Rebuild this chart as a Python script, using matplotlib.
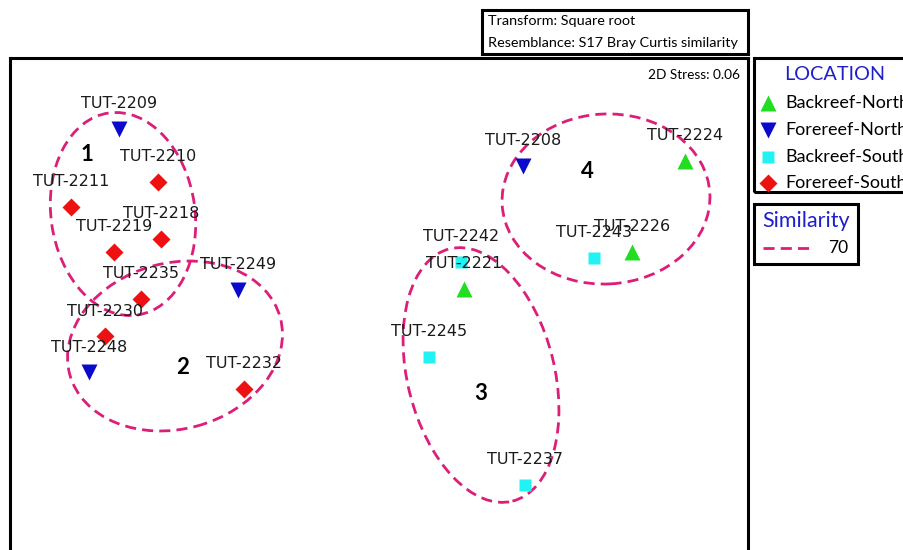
import matplotlib.pyplot as plt
from matplotlib.patches import Ellipse, Rectangle
from matplotlib.lines import Line2D

# nMDS sample coordinates (arbitrary MDS units)
samples = ["TUT-2209", "TUT-2210", "TUT-2211", "TUT-2218", "TUT-2219", "TUT-2235",
           "TUT-2249", "TUT-2230", "TUT-2248", "TUT-2232", "TUT-2208", "TUT-2224",
           "TUT-2243", "TUT-2226", "TUT-2242", "TUT-2221", "TUT-2245", "TUT-2237"]
mds1 = [-2.61, -2.22, -3.09, -2.19, -2.66, -2.39, -1.42, -2.75, -2.91, -1.36,
        1.43, 3.05, 2.14, 2.52, 0.81, 0.84, 0.49, 1.45]
mds2 = [1.71, 1.18, 0.93, 0.61, 0.48, 0.01, 0.10, -0.36, -0.72, -0.89,
        1.34, 1.39, 0.42, 0.48, 0.38, 0.11, -0.57, -1.85]
location = ["Forereef-North", "Forereef-South", "Forereef-South", "Forereef-South",
            "Forereef-South", "Forereef-South", "Forereef-North", "Forereef-South",
            "Forereef-North", "Forereef-South", "Forereef-North", "Backreef-North",
            "Backreef-South", "Backreef-North", "Backreef-South", "Backreef-North",
            "Backreef-South", "Backreef-South"]

locations = ["Backreef-North", "Forereef-North", "Backreef-South", "Forereef-South"]
loc_marker = {"Backreef-North": "^", "Forereef-North": "v",
              "Backreef-South": "s", "Forereef-South": "D"}
loc_color = {"Backreef-North": "#22DD22", "Forereef-North": "#0A0ACC",
             "Backreef-South": "#22F2F2", "Forereef-South": "#EE1111"}
loc_size = {"^": 11, "v": 11, "s": 9, "D": 9}

# 70% similarity contours (cluster groups)
clusters = ["1", "2", "3", "4"]
cl_x = [-2.57, -2.05, 1.01, 2.26]
cl_y = [0.86, -0.46, -0.75, 1.01]
cl_w = [1.44, 2.18, 1.47, 2.08]
cl_h = [2.04, 1.66, 2.60, 1.70]
cl_angle = [8, 15, 14, 3]
cl_label_x = [-2.93, -1.97, 1.01, 2.07]
cl_label_y = [1.45, -0.68, -0.93, 1.28]

ring = "#DD1E78"
blue = "#1E1ECC"
W, H = 904, 550

fig = plt.figure(figsize=(9.04, 5.5), dpi=100)
ax = fig.add_axes([10 / W, -3 / H, 738 / W, 495 / H])
ax.set_xlim(-3.70, 3.68)
ax.set_ylim(-2.53, 2.42)
ax.set_xticks([])
ax.set_yticks([])
for s in ax.spines.values():
    s.set_linewidth(2.2)

for x, y, w, h, a in zip(cl_x, cl_y, cl_w, cl_h, cl_angle):
    ax.add_patch(Ellipse((x, y), w, h, angle=a, fill=False, edgecolor=ring,
                         lw=2, linestyle=(0, (4, 2.2))))
for t, x, y in zip(clusters, cl_label_x, cl_label_y):
    ax.text(x, y, t, ha="center", va="center", fontsize=16, fontweight="bold",
            family="Lato")

for name, x, y, loc in zip(samples, mds1, mds2, location):
    m = loc_marker[loc]
    ax.plot(x, y, m, color=loc_color[loc], markersize=loc_size[m], mec="none")
    ax.annotate(name, (x, y), xytext=(0, 18), textcoords="offset points",
                ha="center", va="center", fontsize=11.5, color="#1a1a1a")

ax.text(0.9895, 0.965, "2D Stress: 0.06", transform=ax.transAxes, ha="right",
        va="center", fontsize=9.8, family="Lato")


def fx(px):
    return px / W


def fy(py):
    return 1 - py / H


# header box
fig.add_artist(Rectangle((fx(482), fy(54)), 266 / W, 44 / H, transform=fig.transFigure,
                         fill=False, lw=2.2, edgecolor="black"))
fig.text(fx(488), fy(21), "Transform: Square root", fontsize=10.4, family="Lato", va="center")
fig.text(fx(488), fy(43), "Resemblance: S17 Bray Curtis similarity", fontsize=10.4,
         family="Lato", va="center")

# location legend (runs past the right edge of the picture)
fig.add_artist(Rectangle((fx(754), fy(192)), 300 / W, 134 / H, transform=fig.transFigure,
                         fill=False, lw=2.2, edgecolor="black"))
fig.text(fx(835), fy(75), "LOCATION", fontsize=14.3, family="Lato", color=blue,
         ha="center", va="center")
for i, loc in enumerate(locations):
    yy = fy(103 + i * 26.8)
    m = loc_marker[loc]
    fig.add_artist(Line2D([fx(768)], [yy], marker=m, color=loc_color[loc],
                          markersize=loc_size[m], mec="none", transform=fig.transFigure))
    fig.text(fx(785), yy, loc, fontsize=13, family="Lato", va="center")

# similarity legend
fig.add_artist(Rectangle((fx(754), fy(264)), 104 / W, 60 / H, transform=fig.transFigure,
                         fill=False, lw=2.2, edgecolor="black"))
fig.text(fx(762), fy(221), "Similarity", fontsize=15.5, family="Lato", color=blue, va="center")
fig.add_artist(Line2D([fx(763), fx(813)], [fy(248), fy(248)], color=ring, lw=2,
                      linestyle=(0, (4, 2.2)), transform=fig.transFigure))
fig.text(fx(828), fy(248), "70", fontsize=12.5, family="Lato", va="center")

fig.savefig("out.png", dpi=100)
